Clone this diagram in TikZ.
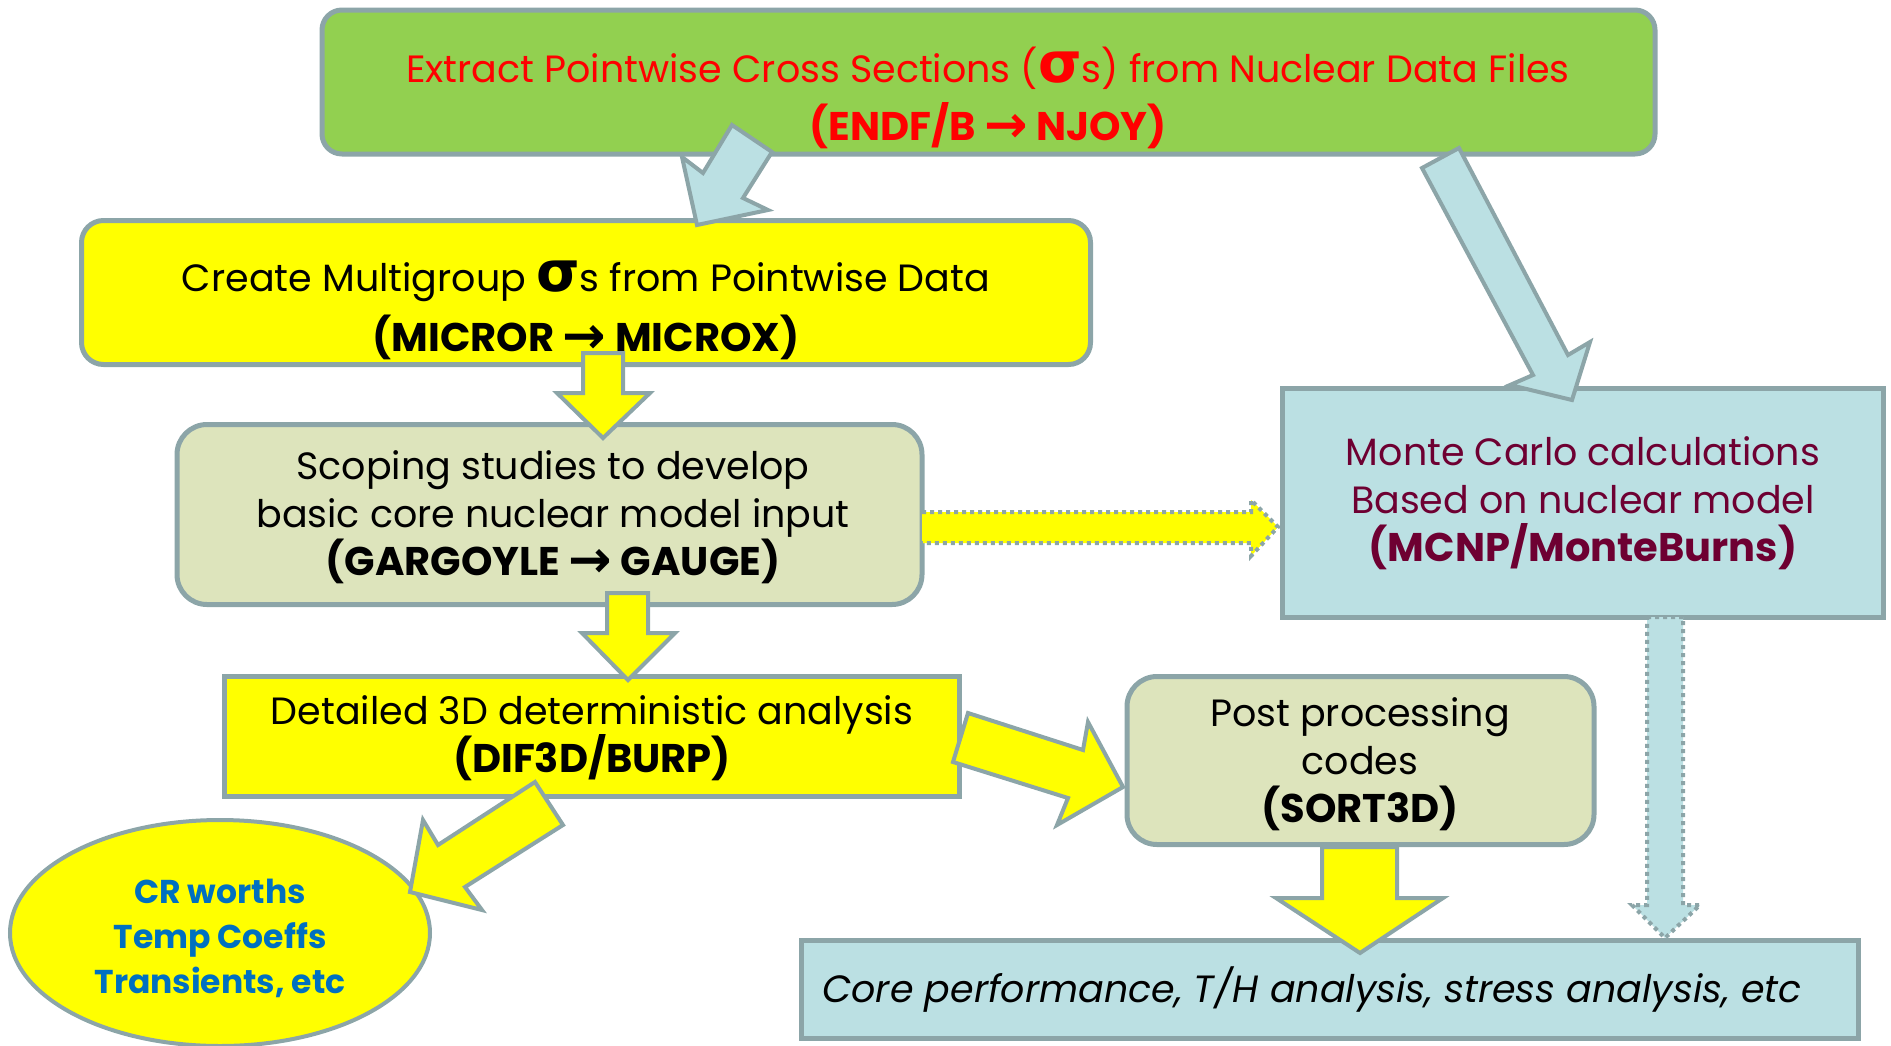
\documentclass[tikz,border=0pt]{standalone}
\usepackage{fontspec}
\setmainfont{Poppins}
\newfontfamily\grk{DejaVu Sans}
\usetikzlibrary{shapes.geometric}
\definecolor{bord}{RGB}{140,165,168}
\definecolor{grn}{RGB}{146,208,80}
\definecolor{ylw}{RGB}{255,255,0}
\definecolor{olv}{RGB}{221,228,188}
\definecolor{lbl}{RGB}{187,224,227}
\definecolor{mar}{RGB}{110,0,50}
\definecolor{blu}{RGB}{0,112,192}
\definecolor{rd}{RGB}{255,0,0}
\newcommand{\Sig}{{\grk\bfseries\fontsize{56}{56}\selectfont σ}}
\newcommand{\Arr}{{\grk\bfseries\fontsize{52}{52}\selectfont\raisebox{-2pt}{→}}}
\newcommand{\Bl}[1]{{\bfseries\fontsize{40}{48}\selectfont #1}}
\begin{document}
\begin{tikzpicture}[x=1pt,y=-1pt,
  box/.style={draw=bord,line width=5pt,inner sep=0pt},
  txt/.style={align=center,font=\fontsize{38}{48}\selectfont,inner sep=0pt},
  barrow/.style={draw=bord,line width=4pt,line join=miter},
  darrow/.style={draw=bord,line width=4pt,dash pattern=on 4pt off 4pt}]
\useasboundingbox (0,0) rectangle (1891,1045);
\clip (0,0) rectangle (1891,1045);

% boxes
\node[box,fill=grn,rounded corners=20pt,minimum width=1333pt,minimum height=144pt] (extract) at (988.5,82) {};
\node[box,fill=ylw,rounded corners=22pt,minimum width=1009pt,minimum height=144pt] (multi) at (586,292.5) {};
\node[box,fill=olv,rounded corners=30pt,minimum width=745pt,minimum height=180pt] (scope) at (549.5,514.5) {};
\node[box,fill=lbl,minimum width=601pt,minimum height=229pt] (mc) at (1582.5,502.5) {};
\node[box,fill=ylw,minimum width=735pt,minimum height=120pt] (det) at (592,736.5) {};
\node[box,fill=olv,rounded corners=30pt,minimum width=467pt,minimum height=168pt] (post) at (1360.5,760.5) {};
\node[box,fill=lbl,minimum width=1057pt,minimum height=98pt] (core) at (1330,989) {};
\node[box,ellipse,line width=4pt,fill=ylw,minimum width=420pt,minimum height=226pt] (res) at (220,933) {};

% texts
\node[txt,text=rd,font=\fontsize{38}{58}\selectfont] (t1) at (988,98) {Extract Pointwise Cross Sections (\Sig s) from Nuclear Data Files\\ \Bl{(ENDF/B \Arr{} NJOY)}};
\node[txt,font=\fontsize{38}{60}\selectfont] (t2) at (586,310) {Create Multigroup \Sig s from Pointwise Data\\ \Bl{(MICROR \Arr{} MICROX)}};
\node[txt] (t3) at (553,517) {Scoping studies to develop\\ basic core nuclear model input\\ \Bl{(GARGOYLE \Arr{} GAUGE)}};
\node[txt,text=mar] (t4) at (1583,503) {Monte Carlo calculations\\ Based on nuclear model\\ \Bl{(MCNP/MonteBurns)}};
\node[txt] (t5) at (592,738) {Detailed 3D deterministic analysis\\ \Bl{(DIF3D/BURP)}};
\node[txt] (t6) at (1360,764) {Post processing\\ codes\\ \Bl{(SORT3D)}};
\node[txt,anchor=west,font=\fontsize{38}{48}\selectfont\itshape] (t7) at (822,990) {Core performance, T/H analysis, stress analysis, etc};
\node[txt,text=blu,font=\bfseries\fontsize{33}{45}\selectfont] (t8) at (220,938) {CR worths\\ Temp Coeffs\\ Transients, etc};

% block arrows
\draw[barrow,fill=lbl] (732,125) -- (772,152) -- (743,198) -- (768,210) -- (697,225) -- (682,157) -- (703,173) -- cycle;
\draw[barrow,fill=lbl] (1422,168) -- (1459,148) -- (1568,355) -- (1590,342) -- (1572,400) -- (1510,385) -- (1533,375) -- cycle;
\draw[barrow,fill=ylw] (583,353) -- (623,353) -- (623,393) -- (650,393) -- (603,438) -- (557,393) -- (583,393) -- cycle;
\draw[barrow,fill=ylw] (607,593) -- (648,593) -- (648,633) -- (675,633) -- (628,680) -- (582,633) -- (607,633) -- cycle;
\draw[barrow,fill=ylw] (968,713) -- (1083,750) -- (1088,722) -- (1123,787) -- (1057,825) -- (1068,798) -- (953,762) -- cycle;
\draw[barrow,fill=ylw] (535,782) -- (563,825) -- (465,887) -- (482,910) -- (410,892) -- (423,820) -- (438,845) -- cycle;
\draw[barrow,fill=ylw] (1322,847) -- (1397,847) -- (1397,898) -- (1443,898) -- (1360,953) -- (1276,898) -- (1322,898) -- cycle;
\fill[ylw] (922,512) -- (1251,512) -- (1251,500) -- (1278,527) -- (1251,556) -- (1251,543) -- (922,543) -- cycle;
\draw[darrow] (922,512) -- (1251,512) -- (1251,500) -- (1278,527) -- (1251,556) -- (1251,543) -- (922,543);
\fill[lbl] (1647,617) -- (1683,617) -- (1683,905) -- (1700,905) -- (1665,938) -- (1632,905) -- (1647,905) -- cycle;
\draw[darrow] (1647,617) -- (1683,617) -- (1683,905) -- (1700,905) -- (1665,938) -- (1632,905) -- (1647,905) -- cycle;
\end{tikzpicture}
\end{document}
